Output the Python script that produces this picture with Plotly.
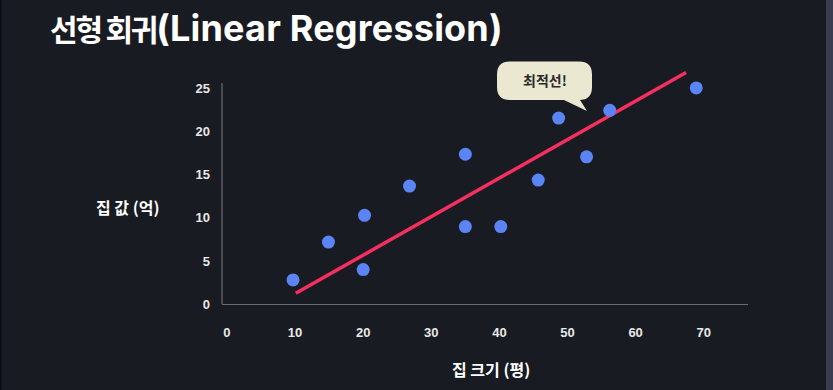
import plotly.graph_objects as go

# ---- data ----
house_size = [9.7, 14.9, 20.0, 20.2, 26.8, 35.0, 35.0, 40.2, 45.7, 48.7, 52.8, 56.2, 68.9]
house_price = [2.8, 7.2, 4.0, 10.3, 13.7, 17.4, 9.0, 9.0, 14.4, 21.6, 17.1, 22.5, 25.1]
fit_x = [10.1, 67.4]
fit_y = [1.24, 26.9]
x_ticks = [0, 10, 20, 30, 40, 50, 60, 70]
y_ticks = [0, 5, 10, 15, 20, 25]

W, H = 833, 390
ML, MR, MT, MB = 222, 85, 63, 86
PW, PH = W - ML - MR, H - MT - MB
BG = "#191b22"

def px(x):
    return (x - ML) / PW

def py(y):
    return (H - MB - y) / PH

fig = go.Figure()
fig.add_trace(go.Scatter(x=fit_x, y=fit_y, mode="lines",
                         line=dict(color="#f72f5f", width=3.5), hoverinfo="skip"))
fig.add_trace(go.Scatter(x=house_size, y=house_price, mode="markers",
                         marker=dict(color="#5b84f5", size=13, line=dict(width=0))))

tick_font = dict(family="Liberation Sans, Arial, sans-serif", size=13, color="#e8e8e8", weight="bold")
fig.update_xaxes(range=[-0.73, 76.5], tickvals=x_ticks, ticks="", showgrid=False, zeroline=False,
                 showline=True, linecolor="#6b6b72", linewidth=1.2, tickfont=tick_font,
                 ticklabelstandoff=16)
fig.update_yaxes(range=[0, 28], tickvals=y_ticks, ticks="", showgrid=False, zeroline=False,
                 showline=False, tickfont=tick_font, ticklabelstandoff=11)

# bubble path
L, R, T, B, r = 497, 592, 61.5, 100, 13
pts = lambda x, y: f"{px(x):.5f},{py(y):.5f}"
path = (f"M {pts(L+r,T)} L {pts(R-r,T)} Q {pts(R,T)} {pts(R,T+r)} "
        f"L {pts(R,B-r)} Q {pts(R,B)} {pts(R-r,B)} L {pts(580,B)} L {pts(587,111)} "
        f"L {pts(564,B)} L {pts(L+r,B)} Q {pts(L,B)} {pts(L,B-r)} L {pts(L,T+r)} "
        f"Q {pts(L,T)} {pts(L+r,T)} Z")

shapes = [
    dict(type="rect", xref="paper", yref="paper", x0=px(826), x1=px(W + 5), y0=py(H + 5), y1=py(-5),
         fillcolor="#3b3c4e", line=dict(width=0), layer="above"),
    dict(type="rect", xref="paper", yref="paper", x0=px(-2), x1=px(1.5), y0=py(H + 5), y1=py(-5),
         fillcolor="#0b0b16", line=dict(width=0), layer="above"),
    dict(type="line", xref="paper", yref="paper", x0=0, x1=0, y0=0, y1=py(83),
         line=dict(color="#6b6b72", width=1.2)),
    dict(type="path", xref="paper", yref="paper", path=path, fillcolor="#ebe8d2",
         line=dict(width=0)),
]

kr = "Noto Sans CJK KR, Noto Sans, sans-serif"
title_html = ('<span style="font-family:\'Noto Sans CJK KR\';font-size:30px;letter-spacing:-2.2px">선형 회귀</span>'
              '<span style="font-family:Inter;font-size:36px;letter-spacing:0.2px">(Linear Regression)</span>')
annotations = [
    dict(text=title_html, xref="paper", yref="paper", x=px(48), y=py(28),
         xanchor="left", yanchor="middle", showarrow=False,
         font=dict(family=kr, size=30, color="#ffffff", weight="bold")),
    dict(text="집 값 (억)", xref="paper", yref="paper", x=px(128), y=py(207),
         xanchor="center", yanchor="middle", showarrow=False,
         font=dict(family=kr, size=16, color="#ffffff", weight="bold")),
    dict(text="집 크기 (평)", xref="paper", yref="paper", x=px(491), y=py(369),
         xanchor="center", yanchor="middle", showarrow=False,
         font=dict(family=kr, size=16, color="#ffffff", weight="bold")),
    dict(text="최적선!", xref="paper", yref="paper", x=px(545), y=py(80),
         xanchor="center", yanchor="middle", showarrow=False,
         font=dict(family=kr, size=14, color="#2a2a2a", weight="bold")),
]

fig.update_layout(width=W, height=H, margin=dict(l=ML, r=MR, t=MT, b=MB),
                  paper_bgcolor=BG, plot_bgcolor=BG, showlegend=False,
                  shapes=shapes, annotations=annotations)

fig.write_html("out.html", config={"displayModeBar": False},
               post_script="document.body.style.margin='0';document.body.style.overflow='hidden';"
                           "document.body.style.background='" + BG + "';")
